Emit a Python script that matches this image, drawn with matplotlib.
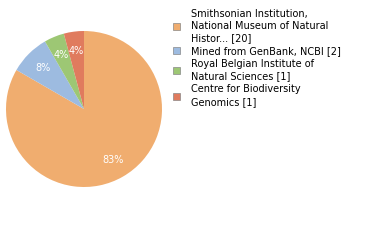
import matplotlib.pyplot as plt
from matplotlib.patches import Patch

labels = ['Smithsonian Institution,\nNational Museum of Natural\nHistor... [20]',
          'Mined from GenBank, NCBI [2]',
          'Royal Belgian Institute of\nNatural Sciences [1]',
          'Centre for Biodiversity\nGenomics [1]']
counts = [20, 2, 1, 1]
colors = ['#f0ad6f', '#9dbbe0', '#9dc774', '#e07b5e']

fig = plt.figure(figsize=(3.8, 2.4), dpi=100)
ax = fig.add_axes([6/380, 53/240, 156/380, 156/240])
wedges, texts, autotexts = ax.pie(counts, colors=colors, startangle=90, counterclock=False,
                                  autopct='%d%%', pctdistance=0.75,
                                  textprops=dict(color='white', fontsize=7))
for t, c in zip(autotexts, counts):
    t.set_text('%d%%' % round(100.0 * c / sum(counts)))
ax.set_xlim(-1, 1)
ax.set_ylim(-1, 1)
ax.set_aspect('equal')

handles = [Patch(facecolor=c, edgecolor='#888888', linewidth=0.5) for c in colors]
leg = fig.legend(handles, labels, loc='upper left', bbox_to_anchor=(169/380, 1 - 5/240),
                 frameon=False, fontsize=7, handlelength=0.75, handleheight=0.75,
                 handletextpad=1.1, labelspacing=0.3, borderaxespad=0)
for t in leg.get_texts():
    t.set_linespacing(1.28)

fig.savefig('out.png')
